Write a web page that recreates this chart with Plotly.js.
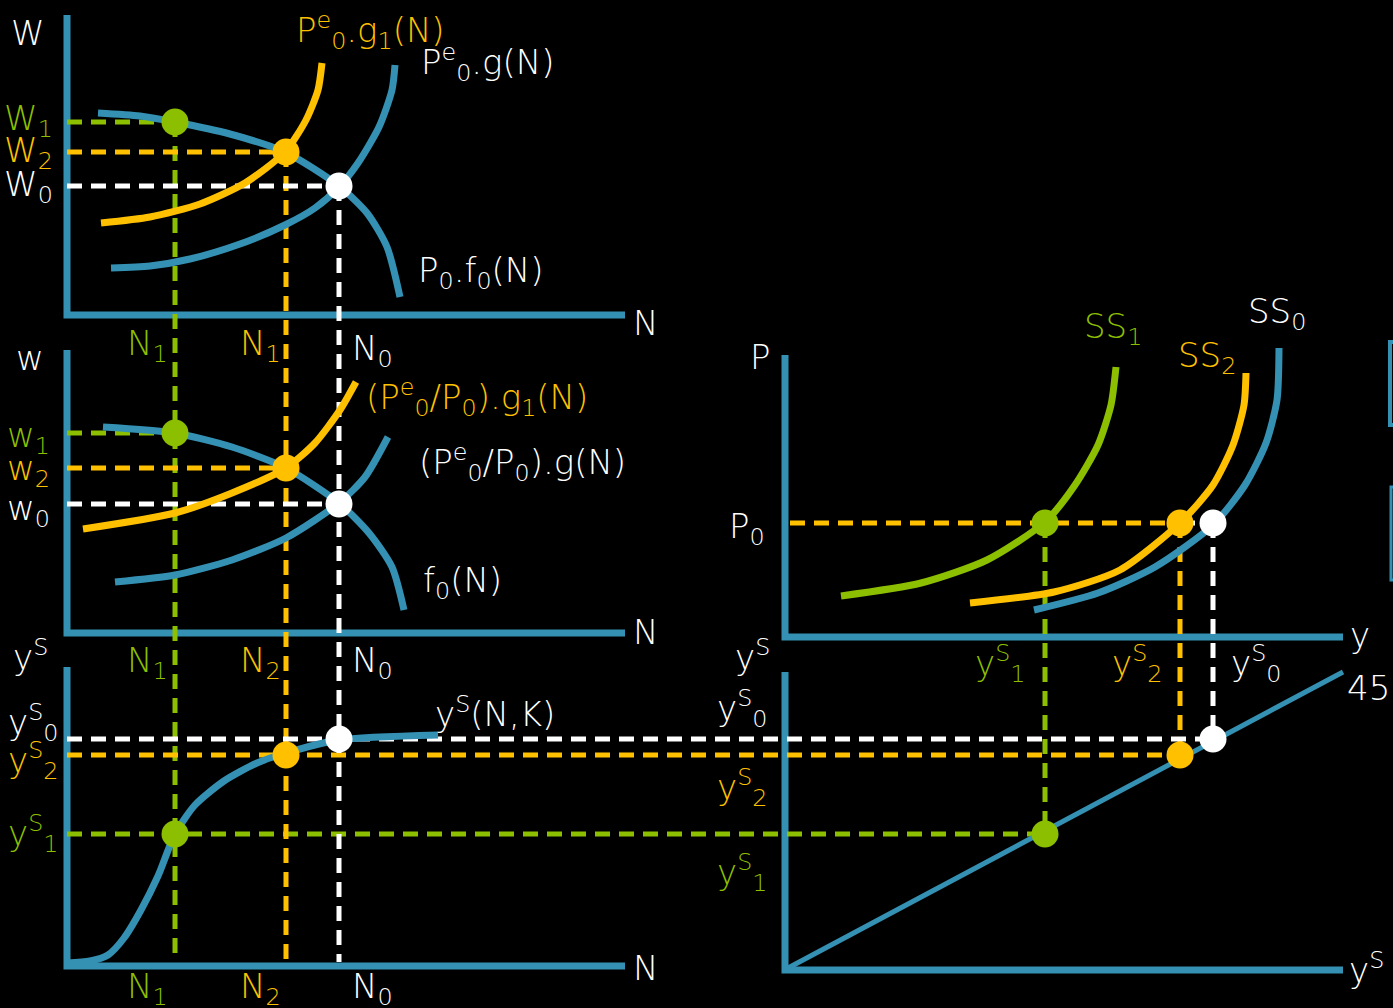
<!DOCTYPE html>
<html><head><meta charset="utf-8">
<script src="https://cdn.plot.ly/plotly-3.0.1.min.js"></script>
<style>html,body{margin:0;padding:0;background:#000;}</style>
</head><body><div id="chart" style="width:1393px;height:1008px;"></div>
<script>
// ---- Colours ----
const BLUE = '#3591b3', GREEN = '#8cbf00', YELLOW = '#ffc000', WHITE = '#ffffff';

// ---- Panel axes (diagram coordinates) ----
const axTopX = [67, 67, 625],   axTopY = [15, 315, 315];
const axMidX = [67, 67, 625],   axMidY = [350, 633, 633];
const axBotX = [67, 67, 625],   axBotY = [667, 966, 966];
const axRTX  = [785, 785, 1343], axRTY = [355, 637, 637];
const axRBX  = [785, 785, 1343], axRBY = [672, 970, 970];

// ---- Equilibrium levels ----
const N_lev  = [175, 286, 339];           // N1 (green), N2 (yellow), N0 (white)
const W_lev  = [122, 152, 186];           // W1, W2, W0
const w_lev  = [433, 468, 504];           // w1, w2, w0
const yS_lev = [834, 755, 739];           // yS1, yS2, yS0 (vertical position)
const yS_x   = [1045, 1180, 1213];        // yS1, yS2, yS0 on the y axis (right panels)
const P0_lev = 523;

// ---- Top panel curves ----
const f0TopX = [98, 140, 175, 230, 285, 339, 367, 387, 400];
const f0TopY = [113, 116, 122, 134, 152, 186, 213, 247, 297];
const gTopX  = [111, 150, 190, 240, 285, 315, 339, 358, 379, 392, 395];
const gTopY  = [268, 266, 259, 244, 225, 208, 187, 163, 127, 90, 65];
const g1TopX = [101, 150, 200, 245, 285, 306, 318, 322];
const g1TopY = [223, 217, 204, 183, 152, 120, 90, 63];

// ---- Middle panel curves ----
const f0MidX = [103, 175, 232, 286, 339, 369, 392, 404];
const f0MidY = [427, 433, 447, 468, 503, 533, 567, 610];
const gMidX  = [115, 175, 232, 286, 339, 365, 388];
const gMidY  = [582, 575, 560, 538, 503, 477, 437];
const g1MidX = [83, 175, 232, 286, 315, 340, 356];
const g1MidY = [529, 513, 493, 468, 443, 410, 382];

// ---- Bottom panel production function ----
const ysX = [67, 90, 108, 124, 141, 158, 175, 195, 224, 257, 286, 339, 438];
const ysY = [963, 961, 955, 938, 910, 876, 834, 805, 781, 763, 753, 740, 735];

// ---- Right top: supply curves ----
const ss1X = [841, 921, 987, 1045, 1075, 1098, 1111, 1116];
const ss1Y = [596, 583, 560, 522, 485, 445, 405, 367];
const ss2X = [970, 1054, 1120, 1181, 1213, 1233, 1244, 1246];
const ss2Y = [603, 592, 570, 522, 485, 445, 405, 373];
const ss0X = [1034, 1098, 1155, 1213, 1245, 1266, 1277, 1279];
const ss0Y = [610, 593, 567, 525, 485, 443, 400, 348];

// ---- Right bottom: 45 degree line ----
const degX = [788, 1343];
const degY = [968, 672];

const traces = [];
function ln(xs, ys, color, width, dash, spline) {
  traces.push({type:'scatter', mode:'lines', x:xs, y:ys, hoverinfo:'skip',
    line:{color:color, width:width, dash:dash||'solid', shape: spline?'spline':'linear', smoothing:0.7}});
}
function dot(x, y, color) {
  traces.push({type:'scatter', mode:'markers', x:[x], y:[y], hoverinfo:'skip',
    marker:{color:color, size:27, line:{width:0}}});
}
const DASH = '15px,9px';
const cols = [GREEN, YELLOW, WHITE];

// axes
[[axTopX,axTopY],[axMidX,axMidY],[axBotX,axBotY],[axRTX,axRTY],[axRBX,axRBY]].forEach(a => ln(a[0], a[1], BLUE, 7));

// dashed guides
for (let i = 0; i < 3; i++) {
  ln([67, N_lev[i]], [W_lev[i], W_lev[i]], cols[i], 5, DASH);
  ln([67, N_lev[i]], [w_lev[i], w_lev[i]], cols[i], 5, DASH);
  ln([N_lev[i], N_lev[i]], [W_lev[i], 962], cols[i], 5, DASH);
  ln([67, yS_x[i]], [yS_lev[i], yS_lev[i]], cols[i], 5, DASH);
  ln([yS_x[i], yS_x[i]], [P0_lev, yS_lev[i]], cols[i], 5, DASH);
}
ln([790, yS_x[1]], [P0_lev, P0_lev], YELLOW, 5, DASH);
ln([yS_x[1], yS_x[2]], [P0_lev, P0_lev], WHITE, 5, DASH);

// curves
ln(gTopX, gTopY, BLUE, 7, null, true);
ln(f0TopX, f0TopY, BLUE, 7, null, true);
ln(g1TopX, g1TopY, YELLOW, 7, null, true);
ln(gMidX, gMidY, BLUE, 7, null, true);
ln(f0MidX, f0MidY, BLUE, 7, null, true);
ln(g1MidX, g1MidY, YELLOW, 7, null, true);
ln(ysX, ysY, BLUE, 7, null, true);
ln(ss0X, ss0Y, BLUE, 7, null, true);
ln(ss2X, ss2Y, YELLOW, 7, null, true);
ln(ss1X, ss1Y, GREEN, 7, null, true);
ln(degX, degY, BLUE, 5);

// equilibrium points
for (let i = 0; i < 3; i++) {
  dot(N_lev[i], W_lev[i], cols[i]);
  dot(N_lev[i], w_lev[i], cols[i]);
  dot(N_lev[i], yS_lev[i], cols[i]);
  dot(yS_x[i], P0_lev, cols[i]);
  dot(yS_x[i], yS_lev[i], cols[i]);
}

// ---- Labels ----
const labTxt = [
  'W','W<sub>1</sub>','W<sub>2</sub>','W<sub>0</sub>','N',
  'P<sup>e</sup><sub>0</sub>.g<sub>1</sub>(N)','P<sup>e</sup><sub>0</sub>.g(N)','P<sub>0</sub>.f<sub>0</sub>(N)',
  'N<sub>1</sub>','N<sub>1</sub>','N<sub>0</sub>',
  'w','w<sub>1</sub>','w<sub>2</sub>','w<sub>0</sub>',
  '(P<sup>e</sup><sub>0</sub>/P<sub>0</sub>).g<sub>1</sub>(N)','(P<sup>e</sup><sub>0</sub>/P<sub>0</sub>).g(N)','f<sub>0</sub>(N)','N',
  'y<sup>S</sup>','N<sub>1</sub>','N<sub>2</sub>','N<sub>0</sub>',
  'y<sup>S</sup><sub>0</sub>','y<sup>S</sup><sub>2</sub>','y<sup>S</sup><sub>1</sub>','y<sup>S</sup>(N,K)','N',
  'N<sub>1</sub>','N<sub>2</sub>','N<sub>0</sub>',
  'P','P<sub>0</sub>','SS<sub>1</sub>','SS<sub>2</sub>','SS<sub>0</sub>','y',
  'y<sup>S</sup>','y<sup>S</sup><sub>1</sub>','y<sup>S</sup><sub>2</sub>','y<sup>S</sup><sub>0</sub>',
  'y<sup>S</sup><sub>0</sub>','y<sup>S</sup><sub>2</sub>','y<sup>S</sup><sub>1</sub>','45°','y<sup>S</sup>'
];
const labX = [
  28,28,28,28,645,
  370,488,481,
  147,260,372,
  30,28,28,28,
  477,522,462,645,
  30,147,260,372,
  33,33,33,495,645,
  147,260,372,
  760,747,1113,1207,1277,1360,
  752,1000,1137,1256,
  742,742,742,1345,1366
];
const labY = [
  33,120,152,186,323,
  30,62,272,
  345,345,350,
  358,437,470,510,
  397,462,582,632,
  655,662,662,662,
  722,760,833,712,968,
  988,988,988,
  357,528,328,357,313,635,
  655,663,663,663,
  708,787,872,688,968
];
const labCol = [
  WHITE,GREEN,YELLOW,WHITE,WHITE,
  YELLOW,WHITE,WHITE,
  GREEN,YELLOW,WHITE,
  WHITE,GREEN,YELLOW,WHITE,
  YELLOW,WHITE,WHITE,WHITE,
  WHITE,GREEN,YELLOW,WHITE,
  WHITE,YELLOW,GREEN,WHITE,WHITE,
  GREEN,YELLOW,WHITE,
  WHITE,WHITE,GREEN,YELLOW,WHITE,WHITE,
  WHITE,GREEN,YELLOW,WHITE,
  WHITE,YELLOW,GREEN,WHITE,WHITE
];

const annotations = labTxt.map((t, i) => ({
  text: t, x: labX[i], y: labY[i], xref:'x', yref:'y', showarrow:false,
  xanchor: t === '45°' ? 'left' : 'center', yanchor:'middle',
  font:{family:'"DejaVu Sans", sans-serif', size:34, color:labCol[i], weight:300}
}));

const layout = {
  width:1393, height:1008, margin:{l:0,r:0,t:0,b:0},
  paper_bgcolor:'#000', plot_bgcolor:'#000', showlegend:false,
  xaxis:{range:[0,1393], visible:false, fixedrange:true},
  yaxis:{range:[1008,0], visible:false, fixedrange:true},
  annotations: annotations,
  shapes:[
    {type:'rect', xref:'x', yref:'y', x0:1390, x1:1460, y0:342, y1:425, line:{color:BLUE, width:4}},
    {type:'rect', xref:'x', yref:'y', x0:1391, x1:1460, y0:487, y1:580, line:{color:BLUE, width:3}}
  ]
};
Plotly.newPlot('chart', traces, layout, {displayModeBar:false, staticPlot:true});
</script></body></html>
